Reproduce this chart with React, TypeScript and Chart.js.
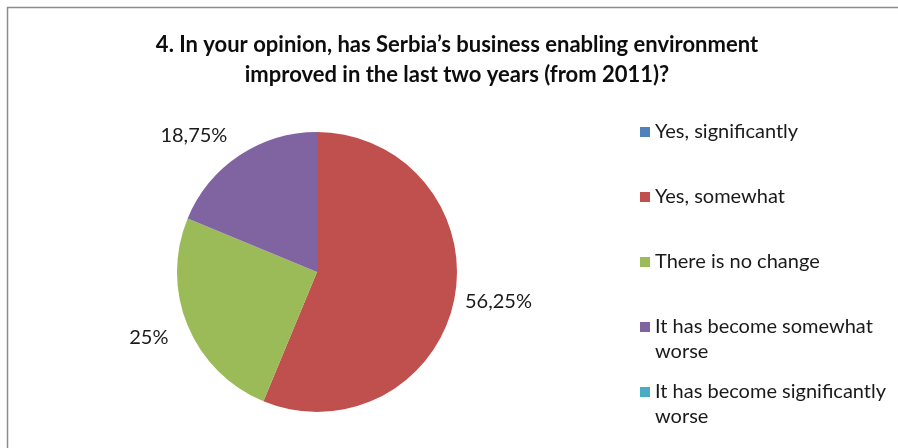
import React, { useEffect, useRef } from "react";
import { Chart, registerables } from "chart.js";

Chart.register(...registerables);

const titleLines = [
  "4. In your opinion, has Serbia\u2019s business enabling environment",
  "improved in the last two years (from 2011)?",
];
const categories = [
  "Yes, significantly",
  "Yes, somewhat",
  "There is no change",
  "It has become somewhat worse",
  "It has become significantly worse",
];
const legendLines = [
  ["Yes, significantly"],
  ["Yes, somewhat"],
  ["There is no change"],
  ["It has become somewhat", "worse"],
  ["It has become significantly", "worse"],
];
const values = [0, 56.25, 25, 18.75, 0];
const valueLabels = ["0%", "56,25%", "25%", "18,75%", "0%"];
const colors = ["#4F81BD", "#C0504D", "#9BBB59", "#8064A2", "#4BACC6"];

const FONT = "Lato, 'Open Sans', 'DejaVu Sans', sans-serif";
// per-label nudges (styling only)
const labelNudge: Record<number, [number, number]> = {
  1: [3, -6],
  2: [0, -4],
  3: [-22, 15],
};

const overlay = {
  id: "overlay",
  afterDraw(chart: any) {
    const ctx = chart.ctx as CanvasRenderingContext2D;
    ctx.save();
    // border (top + left)
    ctx.strokeStyle = "#8c8c8c";
    ctx.lineWidth = 1.5;
    ctx.beginPath();
    ctx.moveTo(7.5, 460);
    ctx.lineTo(7.5, 7.5);
    ctx.lineTo(900, 7.5);
    ctx.stroke();

    // title
    ctx.fillStyle = "#0d0d0d";
    ctx.font = `bold 22px ${FONT}`;
    ctx.textAlign = "center";
    ctx.textBaseline = "middle";
    titleLines.forEach((t, i) => ctx.fillText(t, 457, 45 + i * 30));

    // data labels
    const meta = chart.getDatasetMeta(0);
    ctx.font = `20px ${FONT}`;
    ctx.fillStyle = "#1a1a1a";
    meta.data.forEach((arc: any, i: number) => {
      if (!values[i]) return;
      const { x, y, startAngle, endAngle, outerRadius } = arc.getProps(
        ["x", "y", "startAngle", "endAngle", "outerRadius"],
        true
      );
      const mid = (startAngle + endAngle) / 2;
      const d = outerRadius + 42;
      const n = labelNudge[i] || [0, 0];
      ctx.fillText(valueLabels[i], x + Math.cos(mid) * d + n[0], y + Math.sin(mid) * d + n[1]);
    });

    // legend
    ctx.textAlign = "left";
    ctx.font = `20px ${FONT}`;
    legendLines.forEach((lines, i) => {
      const y0 = 132 + i * 65;
      ctx.fillStyle = colors[i];
      ctx.fillRect(640, y0 - 5, 10, 10);
      ctx.fillStyle = "#1a1a1a";
      lines.forEach((l, j) => ctx.fillText(l, 655, y0 + j * 25));
    });
    ctx.restore();
  },
};

export default function App() {
  const ref = useRef<HTMLCanvasElement>(null);
  useEffect(() => {
    document.body.style.margin = "0";
    const chart = new Chart(ref.current!, {
      type: "pie",
      data: {
        labels: categories,
        datasets: [
          {
            data: values,
            backgroundColor: colors,
            borderWidth: 0,
          },
        ],
      },
      options: {
        animation: false,
        responsive: false,
        layout: { padding: { left: 177, right: 441, top: 132, bottom: 36 } },
        plugins: {
          legend: { display: false },
          title: { display: false },
          tooltip: { enabled: false },
        },
      },
      plugins: [overlay],
    });
    return () => chart.destroy();
  }, []);
  return (
    <div style={{ position: "fixed", left: 0, top: 0, width: 898, height: 448, background: "#fff" }}>
      <canvas ref={ref} width={898} height={448} />
    </div>
  );
}
